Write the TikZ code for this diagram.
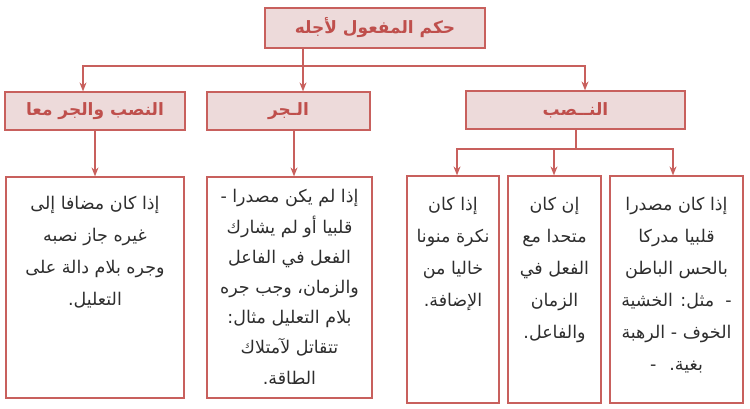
\documentclass[tikz,border=0pt]{standalone}
\usepackage{fontspec}
\usetikzlibrary{arrows.meta}
\TeXXeTstate=1
\newfontfamily\arfont[Script=Arabic]{DejaVu Sans}
\newcommand{\artx}[1]{\beginR #1\endR}
\definecolor{edge}{HTML}{C8605D}
\definecolor{boxfill}{HTML}{EDDADA}
\definecolor{titlered}{HTML}{BF4F4C}
\definecolor{bodytext}{HTML}{2E2E2E}
\tikzset{
  headbox/.style={draw=edge, fill=boxfill, line width=1.2pt, rectangle, inner sep=0pt,
     font=\arfont\bfseries\fontsize{17}{19}\selectfont, text=titlered},
  bodybox/.style={draw=edge, line width=1.2pt, rectangle, inner sep=0pt},
  bodytxt/.style={font=\arfont\fontsize{17.5}{32}\selectfont, text=bodytext, align=center, anchor=north, inner sep=0pt},
  conn/.style={draw=edge, line width=1.2pt},
  arr/.style={conn, -{Stealth[length=9pt,width=7pt]}}
}
\begin{document}
\begin{tikzpicture}[x=1pt,y=-1pt]
\useasboundingbox (0,0) rectangle (750,409);
% headers
\node[headbox, minimum width=220pt, minimum height=40pt] (top) at (375,28) {\artx{حكم المفعول لأجله}};
\node[headbox, minimum width=180pt, minimum height=38pt] (nb) at (95,111) {\artx{النصب والجر معا}};
\node[headbox, minimum width=163pt, minimum height=38pt] (jr) at (288.5,111) {\artx{الـجر}};
\node[headbox, minimum width=219pt, minimum height=38pt] (ns) at (575.5,110) {\artx{النــصب}};
% body boxes
\node[bodybox, minimum width=178pt, minimum height=221pt] (c1) at (95,287.5) {};
\node[bodybox, minimum width=165pt, minimum height=221pt] (c2) at (289.5,287.5) {};
\node[bodybox, minimum width=92pt, minimum height=227pt] (n1) at (453,289.5) {};
\node[bodybox, minimum width=93pt, minimum height=227pt] (n2) at (554.5,289.5) {};
\node[bodybox, minimum width=133pt, minimum height=227pt] (n3) at (676.5,289.5) {};
% texts
\node[bodytxt] (t1) at ([yshift=-20pt]c1.north) {\artx{إذا كان مضافا إلى}\\\artx{غيره جاز نصبه}\\\artx{وجره بلام دالة على}\\\artx{التعليل.}};
\node[bodytxt, font=\arfont\fontsize{17.5}{30.2}\selectfont] (t2) at ([yshift=-13pt]c2.north) {\artx{إذا لم يكن مصدرا -}\\\artx{قلبيا أو لم يشارك}\\\artx{الفعل في الفاعل}\\\artx{والزمان، وجب جره}\\\artx{بلام التعليل مثال:}\\\artx{تتقاتل لآمتلاك}\\\artx{الطاقة.}};
\node[bodytxt] (t3) at ([yshift=-22pt]n1.north) {\artx{إذا كان}\\\artx{نكرة منونا}\\\artx{خاليا من}\\\artx{الإضافة.}};
\node[bodytxt] (t4) at ([yshift=-22pt]n2.north) {\artx{إن كان}\\\artx{متحدا مع}\\\artx{الفعل في}\\\artx{الزمان}\\\artx{والفاعل.}};
\node[bodytxt] (t5) at ([yshift=-22pt]n3.north) {\artx{إذا كان مصدرا}\\\artx{قلبيا مدركا}\\\artx{بالحس الباطن}\\\artx{- \ مثل: الخشية}\\\artx{الخوف - الرهبة}\\\artx{بغية. \ -}};
% connectors
\coordinate (b0) at (303,66);
\coordinate (xa) at (83,0);
\coordinate (xc) at (585,0);
\coordinate (xj) at (294,0);
\coordinate (xs) at (576,0);
\coordinate (d0) at (576,149);
\coordinate (xn1) at (457,0);
\coordinate (xn2) at (554,0);
\coordinate (xn3) at (673,0);
\draw[conn] (top.south -| b0) -- (b0);
\draw[arr] (b0) -- (jr.north -| b0);
\draw[arr] (b0) -| (nb.north -| xa);
\draw[arr] (b0) -| (ns.north -| xc);
\draw[arr] (nb.south) -- (c1.north);
\draw[arr] (jr.south -| xj) -- (c2.north -| xj);
\draw[conn] (ns.south -| xs) -- (d0);
\draw[arr] (d0) -| (n1.north -| xn1);
\draw[arr] (d0) -| (n3.north -| xn3);
\draw[arr] (d0 -| xn2) -- (n2.north -| xn2);
\end{tikzpicture}
\end{document}
